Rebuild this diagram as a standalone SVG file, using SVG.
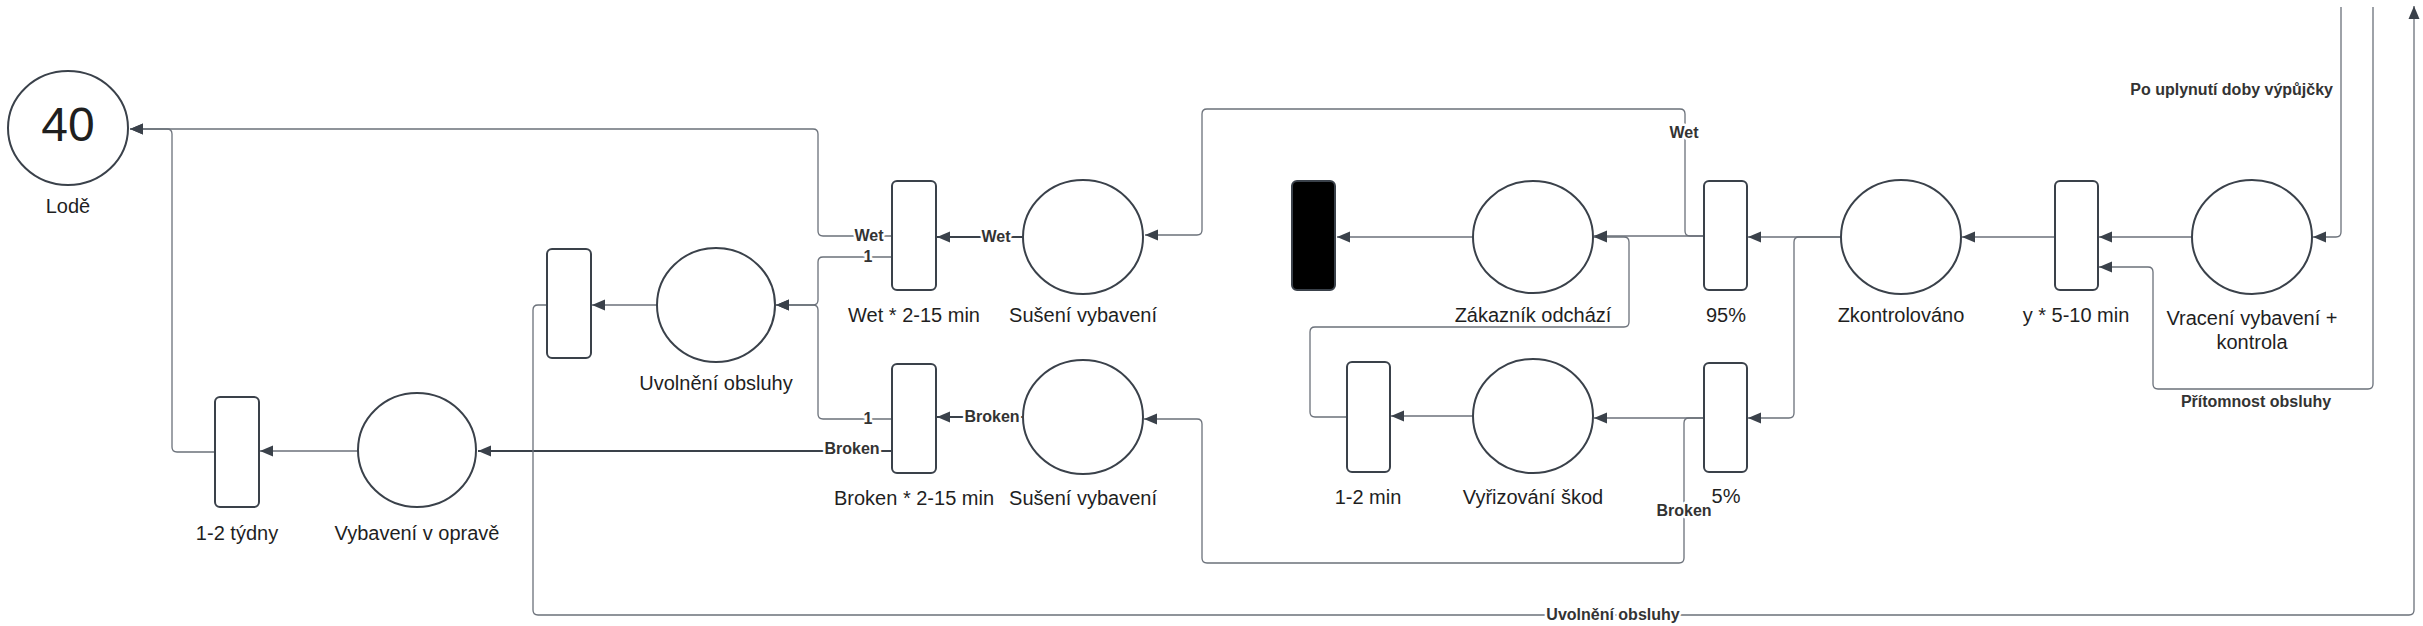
<svg xmlns="http://www.w3.org/2000/svg" width="2423" height="626" viewBox="0 0 2423 626">
<style>
.p{fill:#fff;stroke:#3a414a;stroke-width:2}
.t{fill:#fff;stroke:#3a414a;stroke-width:2}
.b{fill:#000;stroke:#3a414a;stroke-width:2}
.lb{font-family:"Liberation Sans",Arial,sans-serif;font-size:20px;fill:#1f1f1f;text-anchor:middle}
.c{fill:none;stroke:#6b717a;stroke-width:1.3}
.k{fill:none;stroke:#3a414a;stroke-width:2.2}
.cl{font-family:"Liberation Sans",Arial,sans-serif;font-size:16px;font-weight:bold;fill:#333;text-anchor:middle;paint-order:stroke;stroke:#fff;stroke-width:5px;stroke-linejoin:round}
</style>
<defs>
<marker id="a" markerWidth="14" markerHeight="12" refX="13" refY="6" orient="auto" markerUnits="userSpaceOnUse"><path d="M0,0.5 L13,6 L0,11.5 z" fill="#3a414a"/></marker>
</defs>
<g id="connectors">
<path class="c" marker-end="url(#a)" d="M892,236 H823 Q818,236 818,231 V134 Q818,129 813,129 H130"/>
<path class="c" marker-end="url(#a)" d="M215,452 H177 Q172,452 172,447 V134 Q172,129 167,129 H130"/>
<path class="c" marker-end="url(#a)" d="M359,451 H260"/>
<path class="k" marker-end="url(#a)" d="M892,451 H478"/>
<path class="c" marker-end="url(#a)" d="M892,257 H823 Q818,257 818,262 V300 Q818,305 813,305 H776"/>
<path class="c" marker-end="url(#a)" d="M892,419 H823 Q818,419 818,414 V310 Q818,305 813,305 H776"/>
<path class="c" marker-end="url(#a)" d="M657,305 H592"/>
<path class="c" marker-end="url(#a)" d="M547,305 H538 Q533,305 533,310 V610 Q533,615 538,615 H2409 Q2414,615 2414,610 V6"/>
<path class="k" marker-end="url(#a)" d="M1023,237 H937"/>
<path class="k" marker-end="url(#a)" d="M1023,417 H937"/>
<path class="c" marker-end="url(#a)" d="M1704,236 H1690 Q1685,236 1685,231 V114 Q1685,109 1680,109 H1207 Q1202,109 1202,114 V230 Q1202,235 1197,235 H1145"/>
<path class="c" marker-end="url(#a)" d="M1704,236 H1594"/>
<path class="c" marker-end="url(#a)" d="M1473,237 H1337"/>
<path class="c" marker-end="url(#a)" d="M1347,417 H1315 Q1310,417 1310,412 V332 Q1310,327 1315,327 H1624 Q1629,327 1629,322 V242 Q1629,237 1624,237 H1594"/>
<path class="c" marker-end="url(#a)" d="M1473,416 H1391"/>
<path class="c" marker-end="url(#a)" d="M1704,418 H1594"/>
<path class="c" marker-end="url(#a)" d="M1704,418 H1689 Q1684,418 1684,423 V558 Q1684,563 1679,563 H1207 Q1202,563 1202,558 V424 Q1202,419 1197,419 H1144"/>
<path class="c" marker-end="url(#a)" d="M1841,237 H1748"/>
<path class="c" marker-end="url(#a)" d="M1841,237 H1799 Q1794,237 1794,242 V413 Q1794,418 1789,418 H1748"/>
<path class="c" marker-end="url(#a)" d="M2055,237 H1962"/>
<path class="c" marker-end="url(#a)" d="M2193,237 H2099"/>
<path class="c" marker-end="url(#a)" d="M2373,7 V384 Q2373,389 2368,389 H2158 Q2153,389 2153,384 V272 Q2153,267 2148,267 H2099"/>
<path class="c" marker-end="url(#a)" d="M2341,7 V232 Q2341,237 2336,237 H2313"/>
<text class="cl" x="869" y="241">Wet</text>
<text class="cl" x="868" y="262">1</text>
<text class="cl" x="868" y="424">1</text>
<text class="cl" x="852" y="454">Broken</text>
<text class="cl" x="996" y="242">Wet</text>
<text class="cl" x="992" y="422">Broken</text>
<text class="cl" x="1684" y="138">Wet</text>
<text class="cl" x="1684" y="516">Broken</text>
<text class="cl" x="1613" y="620">Uvolnění obsluhy</text>
<text class="cl" x="2256" y="407">Přítomnost obsluhy</text>
<text class="cl" x="2333" y="95" style="text-anchor:end">Po uplynutí doby výpůjčky</text>
</g>
<g id="lode"><ellipse class="p" cx="68" cy="128" rx="60" ry="57"/><text class="lb" x="68" y="141" style="font-size:48px">40</text><text class="lb" x="68" y="213">Lodě</text></g>
<g id="uvolneni"><ellipse class="p" cx="716" cy="305" rx="59" ry="57"/><text class="lb" x="716" y="390">Uvolnění obsluhy</text></g>
<g id="vybaveni-oprava"><ellipse class="p" cx="417" cy="450" rx="59" ry="57"/><text class="lb" x="417" y="540">Vybavení v opravě</text></g>
<g id="suseni-1"><ellipse class="p" cx="1083" cy="237" rx="60" ry="57"/><text class="lb" x="1083" y="322">Sušení vybavení</text></g>
<g id="suseni-2"><ellipse class="p" cx="1083" cy="417" rx="60" ry="57"/><text class="lb" x="1083" y="505">Sušení vybavení</text></g>
<g id="zakaznik"><ellipse class="p" cx="1533" cy="237" rx="60" ry="56"/><text class="lb" x="1533" y="322">Zákazník odchází</text></g>
<g id="vyrizovani"><ellipse class="p" cx="1533" cy="416" rx="60" ry="57"/><text class="lb" x="1533" y="504">Vyřizování škod</text></g>
<g id="zkontrolovano"><ellipse class="p" cx="1901" cy="237" rx="60" ry="57"/><text class="lb" x="1901" y="322">Zkontrolováno</text></g>
<g id="vraceni"><ellipse class="p" cx="2252" cy="237" rx="60" ry="57"/><text class="lb" x="2252" y="325">Vracení vybavení +</text><text class="lb" x="2252" y="349">kontrola</text></g>
<g id="t-uvolneni"><rect class="t" x="547" y="249" width="44" height="109" rx="5"/></g>
<g id="t-tydny"><rect class="t" x="215" y="397" width="44" height="110" rx="5"/><text class="lb" x="237" y="540">1-2 týdny</text></g>
<g id="t-wet"><rect class="t" x="892" y="181" width="44" height="109" rx="5"/><text class="lb" x="914" y="322">Wet * 2-15 min</text></g>
<g id="t-broken"><rect class="t" x="892" y="364" width="44" height="109" rx="5"/><text class="lb" x="914" y="505">Broken * 2-15 min</text></g>
<g id="t-end"><rect class="b" x="1292" y="181" width="43" height="109" rx="5"/></g>
<g id="t-12min"><rect class="t" x="1347" y="362" width="43" height="110" rx="5"/><text class="lb" x="1368" y="504">1-2 min</text></g>
<g id="t-95"><rect class="t" x="1704" y="181" width="43" height="109" rx="5"/><text class="lb" x="1726" y="322">95%</text></g>
<g id="t-5"><rect class="t" x="1704" y="363" width="43" height="109" rx="5"/><text class="lb" x="1726" y="503">5%</text></g>
<g id="t-y"><rect class="t" x="2055" y="181" width="43" height="109" rx="5"/><text class="lb" x="2076" y="322">y * 5-10 min</text></g>
</svg>
